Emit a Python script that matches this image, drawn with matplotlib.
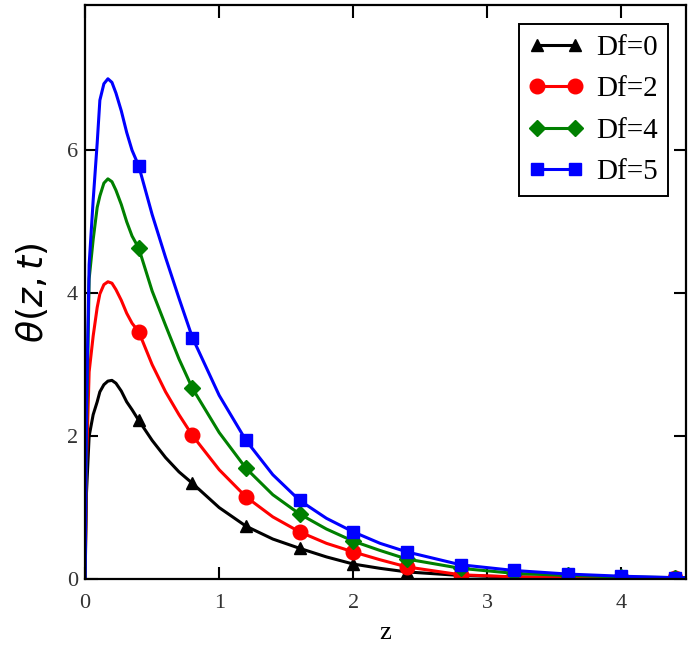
import matplotlib.pyplot as plt

# sample points along z
z = [0, 0.01, 0.03, 0.06, 0.09, 0.11, 0.14, 0.17, 0.2, 0.23, 0.27, 0.31, 0.35,
     0.4, 0.5, 0.6, 0.7, 0.8, 1.0, 1.2, 1.4, 1.6, 1.8, 2.0, 2.2, 2.4, 2.8,
     3.2, 3.6, 4.0, 4.4, 4.48]

theta_df0 = [0, 1.2, 2.0, 2.3, 2.48, 2.62, 2.72, 2.77, 2.78, 2.74, 2.63, 2.48, 2.37,
             2.22, 1.94, 1.7, 1.5, 1.34, 1.0, 0.74, 0.56, 0.43, 0.31, 0.21, 0.15, 0.1, 0.05,
             0.03, 0.02, 0.01, 0.0, 0.0]
theta_df2 = [0, 1.6, 2.9, 3.4, 3.8, 3.99, 4.12, 4.16, 4.14, 4.05, 3.9, 3.72, 3.58,
             3.46, 3.0, 2.62, 2.3, 2.01, 1.53, 1.15, 0.87, 0.66, 0.5, 0.38, 0.27, 0.17, 0.06,
             0.03, 0.02, 0.01, 0.01, 0.01]
theta_df4 = [0, 2.0, 4.2, 4.75, 5.2, 5.36, 5.54, 5.6, 5.56, 5.44, 5.24, 5.0, 4.8,
             4.63, 4.03, 3.55, 3.08, 2.67, 2.05, 1.55, 1.18, 0.91, 0.7, 0.53, 0.4, 0.28, 0.15,
             0.08, 0.05, 0.03, 0.02, 0.02]
theta_df5 = [0, 2.4, 4.4, 5.3, 6.1, 6.7, 6.93, 7.0, 6.95, 6.8, 6.55, 6.25, 6.0,
             5.78, 5.1, 4.5, 3.93, 3.38, 2.57, 1.94, 1.46, 1.1, 0.85, 0.66, 0.5, 0.38, 0.2,
             0.12, 0.07, 0.04, 0.02, 0.02]

labels = ["Df=0", "Df=2", "Df=4", "Df=5"]
marker_z = [0.4, 0.8, 1.2, 1.6, 2.0, 2.4, 2.8, 3.2, 3.6, 4.0, 4.4]

series = [
    (theta_df0, "black", "^", 9),
    (theta_df2, "#ff0000", "o", 10.5),
    (theta_df4, "#008000", "D", 8),
    (theta_df5, "#0000ff", "s", 9),
]

marks = [i for i, v in enumerate(z) if any(abs(v - m) < 1e-9 for m in marker_z)]

fig = plt.figure(figsize=(6.92, 6.47), dpi=100)
ax = fig.add_axes([0.123, 0.105, 0.868, 0.887])

for (vals, col, mk, ms), lab in zip(series, labels):
    ax.plot(z, vals, color=col, linewidth=2.2, marker=mk, markersize=ms,
            markevery=marks, label=lab)

ax.set_xlim(0, 4.48)
ax.set_ylim(0, 8.03)
ax.set_xticks([0, 1, 2, 3, 4])
ax.set_yticks([0, 2, 4, 6])
ax.tick_params(direction="in", length=9, width=1.5, top=True, right=True,
               labelsize=16, labelcolor="#333333")
ax.tick_params(axis="x", pad=11)
ax.tick_params(axis="y", pad=5)
for s in ax.spines.values():
    s.set_linewidth(1.6)
for t in ax.get_xticklabels() + ax.get_yticklabels():
    t.set_fontfamily("Liberation Serif")

ax.set_xlabel("z", fontsize=19, fontfamily="Liberation Serif", labelpad=6)
ax.set_ylabel(r"$\theta\left(z,t\right)$", fontsize=26, labelpad=12)

leg = ax.legend(loc="upper right", bbox_to_anchor=(0.97, 0.967), borderaxespad=0,
                numpoints=2, fancybox=False, framealpha=1, edgecolor="black",
                prop={"family": "Liberation Serif", "size": 21},
                handlelength=1.9, handletextpad=0.4, borderpad=0.35, labelspacing=0.52)
leg.get_frame().set_linewidth(1.4)

fig.savefig("out.png", dpi=100)
